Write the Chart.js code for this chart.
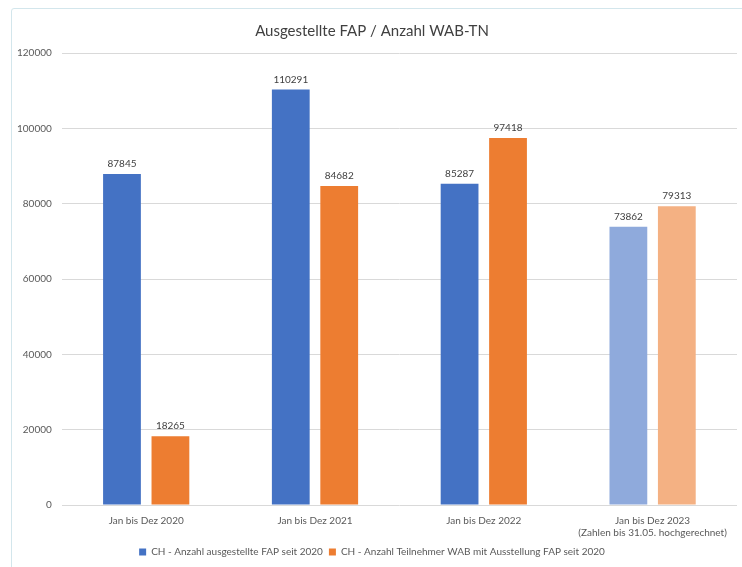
<!DOCTYPE html>
<html>
<head>
<meta charset="utf-8">
<script src="https://cdn.jsdelivr.net/npm/chart.js@4/dist/chart.umd.min.js"></script>
<style>
  html, body { margin: 0; padding: 0; background: #fff; overflow: hidden; }
  #wrap { position: relative; width: 742px; height: 567px; }
  #frame { position: absolute; left: 11px; top: 8px; width: 800px; height: 700px;
           border: 1.5px solid #d3e6ec; border-radius: 3px; }
  canvas { position: absolute; left: 0; top: 0; }
</style>
</head>
<body>
<div id="wrap">
  <div id="frame"></div>
  <canvas id="chart" width="742" height="567"></canvas>
</div>
<script>
// Categories and series
const categories = [
  'Jan bis Dez 2020',
  'Jan bis Dez 2021',
  'Jan bis Dez 2022',
  ['Jan bis Dez 2023', '(Zahlen bis 31.05. hochgerechnet)']
];
const seriesNames = [
  'CH - Anzahl ausgestellte FAP seit 2020',
  'CH - Anzahl Teilnehmer WAB mit Ausstellung FAP seit 2020'
];
const fapValues = [87845, 110291, 85287, 73862];
const wabValues = [18265, 84682, 97418, 79313];
const yTicks = [0, 20000, 40000, 60000, 80000, 100000, 120000];

const blue = '#4472C4', blueLight = '#8FAADC';
const orange = '#ED7D31', orangeLight = '#F4B183';
const projectedIndex = 3; // last category is an estimate, drawn lighter

const FONT = 'Lato, "Open Sans", sans-serif';

// Value labels above each bar
const valueLabels = {
  id: 'valueLabels',
  afterDatasetsDraw(chart) {
    const { ctx } = chart;
    ctx.save();
    ctx.font = '10px ' + FONT;
    ctx.fillStyle = '#404040';
    ctx.textAlign = 'center';
    ctx.textBaseline = 'bottom';
    chart.data.datasets.forEach((ds, i) => {
      chart.getDatasetMeta(i).data.forEach((bar, j) => {
        ctx.fillText(String(ds.data[j]), bar.x, bar.y - 5);
      });
    });
    ctx.restore();
  }
};

new Chart(document.getElementById('chart'), {
  type: 'bar',
  data: {
    labels: categories,
    datasets: [
      {
        label: seriesNames[0],
        data: fapValues,
        backgroundColor: c => c.dataIndex === projectedIndex ? blueLight : blue,
        categoryPercentage: 0.574,
        barPercentage: 0.78
      },
      {
        label: seriesNames[1],
        data: wabValues,
        backgroundColor: c => c.dataIndex === projectedIndex ? orangeLight : orange,
        categoryPercentage: 0.574,
        barPercentage: 0.78
      }
    ]
  },
  options: {
    responsive: false,
    animation: false,
    layout: { padding: { left: 7, right: 5, top: 22, bottom: 0 } },
    plugins: {
      title: {
        display: true,
        text: 'Ausgestellte FAP / Anzahl WAB-TN',
        color: '#404040',
        font: { family: FONT, size: 15, weight: 'normal' },
        padding: { top: 0, bottom: 13 }
      },
      legend: {
        position: 'bottom',
        labels: {
          color: '#595959',
          font: { family: FONT, size: 10 },
          boxWidth: 7,
          boxHeight: 7,
          padding: 6
        }
      },
      tooltip: { enabled: false }
    },
    scales: {
      y: {
        min: 0,
        max: 120000,
        afterBuildTicks: axis => { axis.ticks = yTicks.map(v => ({ value: v })); },
        ticks: {
          color: '#595959',
          font: { family: FONT, size: 10 },
          padding: 10,
          callback: v => String(v)
        },
        grid: { color: '#d9d9d9', drawTicks: false },
        border: { display: false }
      },
      x: {
        ticks: {
          color: '#595959',
          font: { family: FONT, size: 10 },
          padding: 2
        },
        grid: { display: false },
        border: { display: false }
      }
    }
  },
  plugins: [valueLabels]
});
</script>
</body>
</html>
